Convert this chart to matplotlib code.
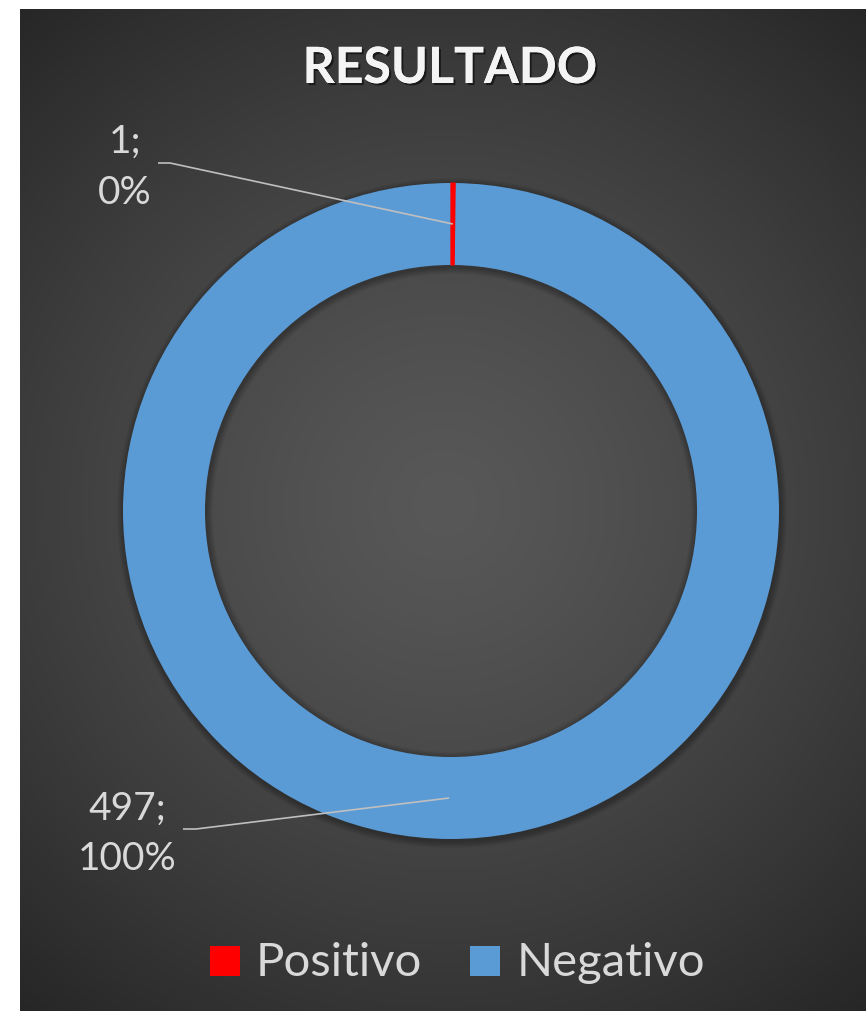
import numpy as np
import matplotlib
matplotlib.use("Agg")
import matplotlib.pyplot as plt
from matplotlib.patches import Wedge, Rectangle
from matplotlib import patheffects as pe

# ---- data ----
title = "RESULTADO"
categories = ["Positivo", "Negativo"]
counts = [1, 497]
colors = ["#ff0000", "#5b9bd5"]

W, H = 866, 1011
FONT = ["Lato", "DejaVu Sans"]
TEXT_COL = "#d9d9d9"

fig = plt.figure(figsize=(W / 100, H / 100), dpi=100, facecolor="white")
ax = fig.add_axes([0, 0, 1, 1])


def Y(y):
    """Convert a top-down pixel row to axis coordinates."""
    return H - y


# ---- radial gradient background ----
x0, x1, y0, y1 = 20, W, 9, H
xs = np.arange(x0, x1) + 0.5
ys = np.arange(y0, y1) + 0.5
XX, YY = np.meshgrid(xs, ys)
d = np.hypot(XX - 445, YY - 505)
v = 88 - 50 * (d / 660) ** 1.3
v = np.clip(v, 36, 255) / 255.0
img = np.dstack([v, v, v])
ax.imshow(img, extent=(x0, x1, Y(y1), Y(y0)), origin="upper",
          interpolation="bilinear", zorder=0)

# ---- doughnut ----
cx, cy = 451, 511
R, ring = 328, 82

# soft shadow under the ring
for k in range(1, 8):
    ax.add_patch(Wedge((cx + 1, Y(cy + 2)), R + k * 1.0, 0, 360,
                       width=ring + 2.0 * k, facecolor="black",
                       edgecolor="none", alpha=0.04, zorder=1))

wedges, _ = ax.pie(counts, colors=colors, startangle=90, counterclock=False,
                   radius=R, center=(cx, Y(cy)),
                   wedgeprops=dict(width=ring, linewidth=0, antialiased=True))
for w, col in zip(wedges, colors):
    w.set_zorder(2)
# keep the thin slice visible as a crisp line
wedges[0].set_edgecolor(colors[0])
wedges[0].set_linewidth(0.9)
wedges[0].set_zorder(2.5)

# ---- data labels with leader lines ----
total = sum(counts)
label_pos = [  # (text x, first baseline, second baseline, leader start, elbow)
    (125, 153, 204, (158, 163), (170, 163)),
    (127, 820, 870, (183, 829), (196, 829)),
]
rmid = R - ring / 2
for w, c, (tx, b1, b2, p0, p1) in zip(wedges, counts, label_pos):
    mid = np.deg2rad((w.theta1 + w.theta2) / 2)
    ex = cx + rmid * np.cos(mid)
    ey = Y(cy) + rmid * np.sin(mid)
    ax.plot([p0[0], p1[0], ex], [Y(p0[1]), Y(p1[1]), ey],
            color="#bfbfbf", lw=1.2, zorder=3, solid_capstyle="butt")
    pct = round(100 * c / total)
    ax.text(tx, Y(b1), f"{c};", ha="center", va="baseline", fontsize=28,
            color=TEXT_COL, family=FONT, zorder=4)
    ax.text(tx, Y(b2), f"{pct}%", ha="center", va="baseline", fontsize=28,
            color=TEXT_COL, family=FONT, zorder=4)

# ---- title ----
ax.text(450, Y(83), title, ha="center", va="baseline", fontsize=36,
        fontweight="bold", color="#f4f4f4", family=FONT, zorder=5,
        path_effects=[pe.withSimplePatchShadow(offset=(1.5, -1.5),
                                               shadow_rgbFace="black",
                                               alpha=0.55),
                      pe.Normal()])

# ---- legend ----
legend_items = [(210, 256), (470, 517)]  # (marker left, text left)
for (mx, tx), name, col in zip(legend_items, categories, colors):
    ax.add_patch(Rectangle((mx, Y(976)), 30, 30, facecolor=col,
                           edgecolor="none", zorder=4))
    ax.text(tx, Y(976), name, ha="left", va="baseline", fontsize=34,
            color=TEXT_COL, family=FONT, zorder=4)

ax.set_xlim(0, W)
ax.set_ylim(0, H)
ax.set_aspect("auto")
ax.axis("off")

fig.savefig("out.png", dpi=100, facecolor="white")
